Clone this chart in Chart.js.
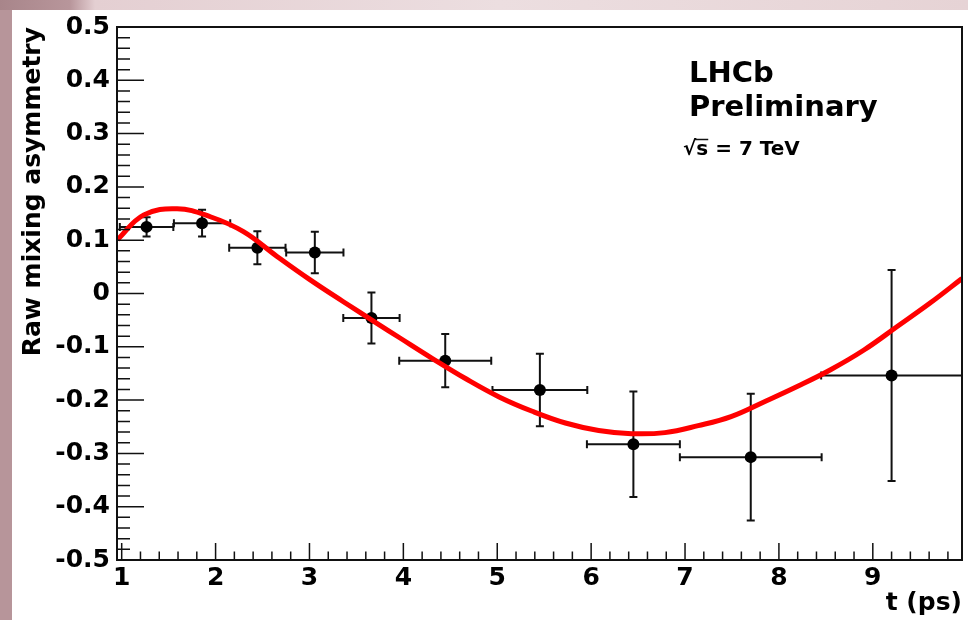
<!DOCTYPE html>
<html>
<head>
<meta charset="utf-8">
<script src="https://cdn.jsdelivr.net/npm/chart.js@4.4.0/dist/chart.umd.min.js"></script>
<style>
  html, body { margin: 0; padding: 0; }
  body { width: 968px; height: 620px; overflow: hidden; position: relative; background: #b7959a; }
  #top_strip { position: absolute; left: 0; top: 0; width: 968px; height: 10px;
    background: linear-gradient(to right, #a8858a 0px, #b8969b 70px, #e4cfd2 95px, #ecdee0 500px, #e6d3d5 968px); }
  #panel { position: absolute; left: 12px; top: 10px; right: 0; bottom: 0; background: #fff; }
  #chart_container { position: absolute; left: 0; top: 0; width: 968px; height: 620px; }
</style>
</head>
<body>
<div id="top_strip"></div>
<div id="panel"></div>
<div id="chart_container"><canvas id="asym_canvas"></canvas></div>
<script>
// measured points (t in ps), half bin widths and errors
let time_points = [1.265, 1.856, 2.445, 3.057, 3.66, 4.446, 5.454, 6.45, 7.70, 9.2];
let time_halfwidth = [0.285, 0.30, 0.30, 0.305, 0.30, 0.49, 0.505, 0.495, 0.755, 0.75];
let asym_values = [0.125, 0.132, 0.086, 0.077, -0.046, -0.126, -0.181, -0.283, -0.307, -0.154];
let asym_errors = [0.018, 0.025, 0.031, 0.039, 0.048, 0.05, 0.068, 0.099, 0.119, 0.198];

// fit curve
let fit_t = [0.955, 1.236, 1.59, 1.944, 2.297, 2.651, 3.004, 3.357, 3.71, 3.96, 4.31, 4.666, 5.02,
  5.373, 5.726, 6.08, 6.43, 6.786, 7.14, 7.49, 7.846, 8.2, 8.55, 8.906, 9.26, 9.61, 9.95];
let fit_asym = [0.101, 0.1475, 0.159, 0.144, 0.116, 0.070, 0.026, -0.015, -0.055, -0.083, -0.122, -0.160, -0.194,
  -0.221, -0.243, -0.257, -0.263, -0.261, -0.248, -0.231, -0.203, -0.174, -0.143, -0.106, -0.062, -0.018, 0.028];

let x_tick_labels = [1, 2, 3, 4, 5, 6, 7, 8, 9];
let y_tick_labels = [-0.5, -0.4, -0.3, -0.2, -0.1, 0, 0.1, 0.2, 0.3, 0.4, 0.5];

let tick_font = { family: '"DejaVu Sans"', weight: 'bold', size: 25 };

// error bars under the markers
const errorBars = {
  id: 'errorBars',
  beforeDatasetsDraw(chart) {
    let ctx = chart.ctx;
    let xs = chart.scales.x, ys = chart.scales.y, area = chart.chartArea;
    ctx.save();
    ctx.beginPath();
    ctx.rect(area.left, area.top, area.width, area.height);
    ctx.clip();
    ctx.strokeStyle = '#111';
    ctx.lineWidth = 2;
    for (let i = 0; i < time_points.length; i++) {
      let px = xs.getPixelForValue(time_points[i]);
      let py = ys.getPixelForValue(asym_values[i]);
      let x1 = xs.getPixelForValue(time_points[i] - time_halfwidth[i]);
      let x2 = xs.getPixelForValue(time_points[i] + time_halfwidth[i]);
      let y1 = ys.getPixelForValue(asym_values[i] + asym_errors[i]);
      let y2 = ys.getPixelForValue(asym_values[i] - asym_errors[i]);
      ctx.beginPath();
      ctx.moveTo(x1, py); ctx.lineTo(x2, py);
      ctx.moveTo(px, y1); ctx.lineTo(px, y2);
      ctx.moveTo(x1, py - 4); ctx.lineTo(x1, py + 4);
      ctx.moveTo(x2, py - 4); ctx.lineTo(x2, py + 4);
      ctx.moveTo(px - 4, y1); ctx.lineTo(px + 4, y1);
      ctx.moveTo(px - 4, y2); ctx.lineTo(px + 4, y2);
      ctx.stroke();
    }
    ctx.restore();
  }
};

// ROOT style frame, inward ticks and the LHCb label
const rootFrame = {
  id: 'rootFrame',
  afterDraw(chart) {
    let ctx = chart.ctx, a = chart.chartArea;
    let xs = chart.scales.x, ys = chart.scales.y;
    ctx.save();
    ctx.strokeStyle = '#111';
    ctx.lineWidth = 1.5;
    ctx.beginPath();
    for (let k = 0; k <= 44; k++) {
      let v = 1 + k * 0.2;
      if (v > xs.max) break;
      let px = xs.getPixelForValue(v);
      let len = (k % 5 == 0) ? 17 : 8.5;
      ctx.moveTo(px, a.bottom); ctx.lineTo(px, a.bottom - len);
    }
    for (let k = 0; k <= 50; k++) {
      let v = -0.5 + k * 0.02;
      let py = ys.getPixelForValue(v);
      let len = (k % 5 == 0) ? 27 : 13;
      ctx.moveTo(a.left, py); ctx.lineTo(a.left + len, py);
    }
    ctx.stroke();
    ctx.lineWidth = 2;
    ctx.strokeRect(a.left, a.top, a.width, a.height);

    ctx.fillStyle = '#000';
    ctx.textBaseline = 'alphabetic';
    ctx.textAlign = 'left';
    ctx.font = 'bold 29px "DejaVu Sans"';
    ctx.fillText('LHCb', 689, 82);
    ctx.fillText('Preliminary', 689, 116);
    ctx.font = 'bold 20px "DejaVu Sans"';
    ctx.fillText('\u221As = 7 TeV', 683, 155);
    let root_w = ctx.measureText('\u221A').width;
    let s_w = ctx.measureText('s').width;
    ctx.lineWidth = 1.5;
    ctx.beginPath();
    ctx.moveTo(683 + root_w - 2, 139.5);
    ctx.lineTo(683 + root_w + s_w, 139.5);
    ctx.stroke();
    ctx.restore();
  }
};

let canvas = document.getElementById('asym_canvas');
let ctx = canvas.getContext('2d');
let chart = new Chart(ctx, {
  type: 'scatter',
  data: {
    datasets: [{
      // fit function, drawn on top
      data: fit_t.map((t, i) => ({ x: t, y: fit_asym[i] })),
      showLine: true,
      borderColor: '#ff0000',
      borderWidth: 5,
      pointRadius: 0,
      tension: 0.4,
      fill: false
    }, {
      data: time_points.map((t, i) => ({ x: t, y: asym_values[i] })),
      pointRadius: 6,
      pointBackgroundColor: '#000',
      pointBorderWidth: 0,
      borderColor: '#000'
    }]
  },
  options: {
    responsive: true,
    maintainAspectRatio: false,
    animation: false,
    layout: { padding: { left: 0, top: 27, right: 4, bottom: 0 } },
    plugins: {
      legend: { display: false },
      tooltip: { enabled: false }
    },
    scales: {
      x: {
        type: 'linear',
        min: 0.95,
        max: 9.95,
        afterBuildTicks: (axis) => { axis.ticks = x_tick_labels.map(v => ({ value: v })); },
        afterFit: (axis) => { axis.height = 60; },
        ticks: { font: tick_font, color: '#000', padding: 3, maxRotation: 0, callback: v => String(v) },
        grid: { display: false, drawTicks: false },
        border: { display: false },
        title: {
          display: true,
          text: 't (ps)',
          align: 'end',
          color: '#000',
          font: { family: '"DejaVu Sans"', weight: 'bold', size: 25 },
          padding: { top: 0, bottom: 2 }
        }
      },
      y: {
        type: 'linear',
        min: -0.5,
        max: 0.5,
        afterBuildTicks: (axis) => { axis.ticks = y_tick_labels.map(v => ({ value: v })); },
        afterFit: (axis) => { axis.width = 117; },
        ticks: { font: tick_font, color: '#000', padding: 7, callback: v => String(v) },
        grid: { display: false, drawTicks: false },
        border: { display: false },
        title: {
          display: true,
          text: 'Raw mixing asymmetry',
          align: 'end',
          color: '#000',
          font: { family: '"DejaVu Sans"', weight: 'bold', size: 25 },
          padding: { top: 18, bottom: 0 }
        }
      }
    }
  },
  plugins: [errorBars, rootFrame]
});
</script>
</body>
</html>
